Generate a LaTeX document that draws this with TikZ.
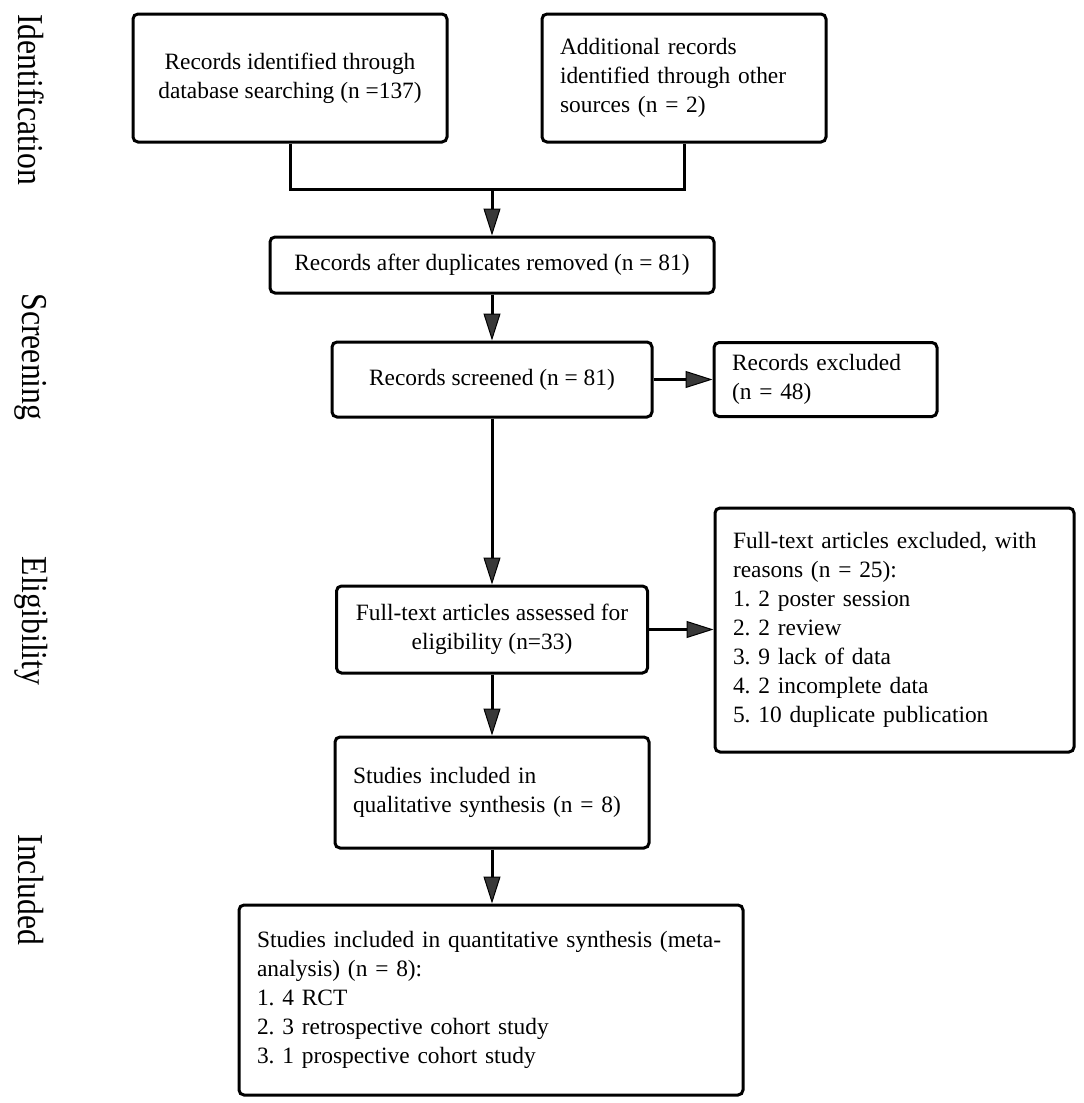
\documentclass[tikz,border=0pt]{standalone}
\usepackage{fontspec}
\setmainfont{Liberation Serif}
\usetikzlibrary{arrows.meta}
\newcommand\boxfont{\fontsize{23.4}{29}\selectfont}
\newcommand\labfont{\fontsize{31.7}{36}\selectfont}
\frenchspacing
\begin{document}
\begin{tikzpicture}[x=1pt,y=-1pt,
  box/.style={draw=black, line width=3pt, rounded corners=5pt, inner sep=0pt, font=\boxfont, align=center},
  lbox/.style={draw=black, line width=3pt, rounded corners=5pt, inner xsep=18pt, inner ysep=0pt, font=\boxfont, align=left},
  conn/.style={draw=black, line width=3pt},
  arr/.style={draw=black, line width=3pt, -{Triangle[length=27pt,width=17pt,fill=black!78,line width=1pt]}},
  lab/.style={rotate=-90, font=\labfont, inner sep=0pt}]
\fill[white] (0,0) rectangle (1084,1103);
\useasboundingbox (0,0) rectangle (1084,1103);

% stage labels
\node[lab] (lid) at (31,99.5) {\scalebox{1}[1.15]{Identification}};
\node[lab] (lsc) at (31,357) {\scalebox{1}[1.15]{Screening}};
\node[lab] (lel) at (31,621) {\scalebox{1}[1.15]{Eligibility}};
\node[lab] (lin) at (31,890) {\scalebox{1}[1.15]{Included}};

% boxes
\node[box, minimum width=314pt, minimum height=128pt] (b1) at (290,78)
  {Records identified through\\database searching (n =137)};
\node[lbox, text width=248pt, minimum height=128pt] (b2) at (684,78)
  {Additional records\\identified through other\\sources (n = 2)};
\node[box, minimum width=444pt, minimum height=56pt] (b3) at (492,265)
  {Records after duplicates removed (n = 81)};
\node[box, minimum width=320pt, minimum height=75pt] (b4) at (492,379.5)
  {Records screened (n = 81)};
\node[lbox, text width=187pt, minimum height=74pt] (b5) at (825.5,379.5)
  {Records excluded\\(n = 48)};
\node[box, minimum width=311pt, minimum height=87pt] (b6) at (492,629.5)
  {Full-text articles assessed for\\eligibility (n=33)};
\node[lbox, text width=323pt, minimum height=244pt] (b7) at (894.5,630)
  {Full-text articles excluded, with\\reasons (n = 25):\\1. 2 poster session\\2. 2 review\\3. 9 lack of data\\4. 2 incomplete data\\5. 10 duplicate publication};
\node[lbox, text width=278pt, minimum height=111pt] (b8) at (492,792.5)
  {Studies included in\\qualitative synthesis (n = 8)};
\node[lbox, text width=468pt, minimum height=190pt] (b9) at (491,1000)
  {Studies included in quantitative synthesis (meta-\\analysis) (n = 8):\\1. 4 RCT\\2. 3 retrospective cohort study\\3. 1 prospective cohort study};

% connectors
\coordinate (j) at (492,189);
\draw[conn] (b1.south) |- (j) -| (b2.south);
\draw[arr] (j) -- (j |- b3.north);
\draw[arr] (b3.south -| b4.north) -- (b4.north);
\draw[arr] (b4.east) -- (b4.east -| b5.west);
\draw[arr] (b4.south) -- (b4.south |- b6.north);
\draw[arr] (b6.east) -- (b6.east -| b7.west);
\draw[arr] (b6.south) -- (b6.south |- b8.north);
\draw[arr] (b8.south) -- (b8.south |- b9.north);
\end{tikzpicture}
\end{document}
